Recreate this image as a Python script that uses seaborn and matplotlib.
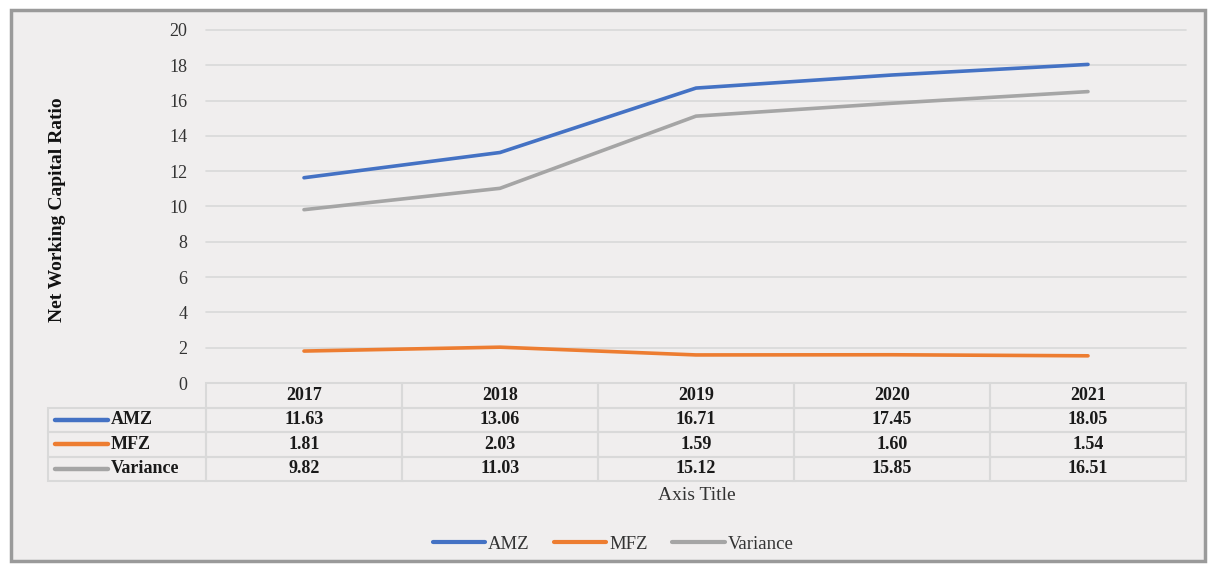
import matplotlib

matplotlib.use('Agg')
import matplotlib.pyplot as plt
import numpy as np
import pandas as pd
import seaborn as sns
from matplotlib.patches import Rectangle
from matplotlib.lines import Line2D

years = ['2017', '2018', '2019', '2020', '2021']
amz = [11.63, 13.06, 16.71, 17.45, 18.05]
mfz = [1.81, 2.03, 1.59, 1.60, 1.54]
variance = [9.82, 11.03, 15.12, 15.85, 16.51]
series_names = ['AMZ', 'MFZ', 'Variance']
colors = ['#4472C4', '#ED7D31', '#A5A5A5']

W, H = 1210, 566
bg = '#F0EEEE'
grid_c = '#D9D9D9'

sns.set_style('white')
plt.rcParams['font.family'] = ['Liberation Serif', 'DejaVu Serif']

fig = plt.figure(figsize=(W / 100, H / 100), dpi=100)
fig.patch.set_facecolor('white')
# outer frame (behind the axes)
fig.patches.append(Rectangle((11 / W, 1 - 561 / H), 1194 / W, 551 / H, transform=fig.transFigure,
                             facecolor=bg, edgecolor='#9A9A9A', lw=2.5, zorder=-5))

# plot area in pixels
px0, px1, py_top, py_bot = 206, 1186, 30, 383
ax = fig.add_axes([px0 / W, 1 - py_bot / H, (px1 - px0) / W, (py_bot - py_top) / H])
ax.set_facecolor('none')

df = pd.DataFrame({'year': years * 3,
                   'value': amz + mfz + variance,
                   'series': sum([[n] * len(years) for n in series_names], [])})
sns.lineplot(data=df, x='year', y='value', hue='series', palette=colors, lw=2.6,
             legend=False, ax=ax, sort=False)

ax.set_xlim(-0.5, len(years) - 0.5)
ax.set_ylim(0, 20)
ax.set_yticks(np.arange(0, 21, 2))
ax.yaxis.grid(True, color=grid_c, lw=1.2)
for gl in ax.get_ygridlines():
    gl.set_clip_on(False)
ax.set_axisbelow(True)
for s in ax.spines.values():
    s.set_visible(False)
ax.set_xticks([])
ax.set_xlabel('')
ax.set_ylabel('')
ax.tick_params(axis='y', length=0, pad=13.5, labelsize=13, labelcolor='#333333')

# data table under the plot
ax_w, ax_h = px1 - px0, py_bot - py_top
lab_w = 158
row_h = 98 / 4
cell_text = [[''] + ['%.2f' % v for v in vals] for vals in (amz, mfz, variance)]
tbl = ax.table(cellText=cell_text, colLabels=[''] + years,
               colWidths=[lab_w] + [ax_w / 5] * 5,
               bbox=[-lab_w / ax_w, -98 / ax_h, (ax_w + lab_w) / ax_w, 98 / ax_h],
               cellLoc='center')
tbl.auto_set_font_size(False)
for (r, c), cell in tbl.get_celld().items():
    cell.set_edgecolor(grid_c)
    cell.set_linewidth(1.5)
    cell.set_facecolor('none')
    cell.get_text().set_fontsize(13)
    cell.get_text().set_fontweight('bold')
    cell.get_text().set_color('#1a1a1a')
    if r == 0 and c == 0:
        cell.set_edgecolor('none')

# row labels with line keys
for i, (name, col) in enumerate(zip(series_names, colors)):
    yc = 1 - (383 + row_h * (i + 1.5)) / H
    fig.add_artist(Line2D([55 / W, 108 / W], [yc, yc], color=col, lw=3.2,
                          solid_capstyle='round', transform=fig.transFigure))
    fig.text(111 / W, yc, name, ha='left', va='center', fontsize=13,
             fontweight='bold', color='#1a1a1a')

fig.text(57 / W, 1 - 210 / H, 'Net Working Capital Ratio', rotation=90, ha='center',
         va='center', fontsize=14, fontweight='bold', color='#111111')
fig.text(697 / W, 1 - 495 / H, 'Axis Title', ha='center', va='center', fontsize=14,
         color='#333333')

handles = [Line2D([], [], color=c, lw=3) for c in colors]
fig.legend(handles, series_names, loc='center', bbox_to_anchor=(613 / W, 1 - 544 / H),
           ncol=3, frameon=False, fontsize=13.5, handlelength=2.8, handletextpad=0.15,
           columnspacing=1.3, labelcolor='#333333')

fig.savefig('out.png', dpi=100, facecolor=fig.get_facecolor())
